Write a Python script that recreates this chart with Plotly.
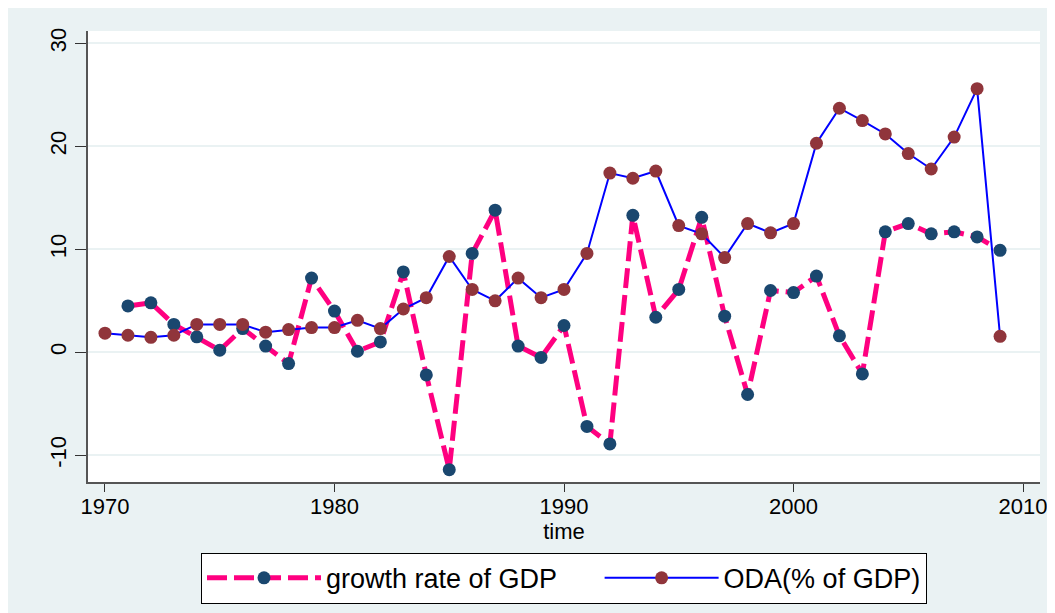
import plotly.graph_objects as go

years_gdp = list(range(1971, 2010))
gdp_growth = [4.5, 4.8, 2.7, 1.5, 0.2, 2.3, 0.6, -1.1, 7.2, 4.0,
              0.1, 1.0, 7.8, -2.2, -11.4, 9.6, 13.8, 0.6, -0.5, 2.6,
              -7.2, -8.9, 13.3, 3.4, 6.1, 13.1, 3.5, -4.1, 6.0, 5.8,
              7.4, 1.6, -2.1, 11.7, 12.5, 11.5, 11.7, 11.2, 9.9]

years_oda = list(range(1970, 2010))
oda_pct = [1.85, 1.65, 1.45, 1.65, 2.7, 2.7, 2.7, 1.95, 2.2, 2.4,
           2.4, 3.1, 2.3, 4.2, 5.3, 9.3, 6.1, 5.0, 7.2, 5.3,
           6.1, 9.6, 17.4, 16.9, 17.6, 12.3, 11.5, 9.2, 12.5, 11.6,
           12.5, 20.3, 23.7, 22.5, 21.2, 19.3, 17.8, 20.9, 25.6, 1.55]

x_ticks = [1970, 1980, 1990, 2000, 2010]
y_ticks = [-10, 0, 10, 20, 30]
y_tick_labels = [str(v) for v in y_ticks]

FONT = "Liberation Sans, Arial, sans-serif"
BG = "#EAF2F3"
NB = "\u00a0"

fig = go.Figure()
fig.add_trace(go.Scatter(
    x=years_gdp, y=gdp_growth, name="growth rate of GDP" + NB * 5,
    mode="lines+markers",
    line=dict(color="#FF0080", width=5, dash="20px,7px"),
    marker=dict(color="#1A476F", size=13),
))
fig.add_trace(go.Scatter(
    x=years_oda, y=oda_pct, name="ODA(% of GDP)",
    mode="lines+markers",
    line=dict(color="#0000FF", width=2),
    marker=dict(color="#90353B", size=13),
))

fig.update_layout(
    width=1055, height=613,
    margin=dict(l=80, r=23, t=23, b=139, autoexpand=False),
    paper_bgcolor=BG, plot_bgcolor="white",
    font=dict(family=FONT, size=22, color="black"),
    showlegend=True,
    legend=dict(orientation="h", x=0.5, xanchor="center",
                y=-0.157, yanchor="top",
                bgcolor="white", bordercolor="black", borderwidth=1,
                font=dict(size=27), itemwidth=114),
    xaxis=dict(range=[1969.26, 2010.74], tickvals=x_ticks,
               showgrid=False, zeroline=False, automargin=False,
               showline=True, linecolor="#555555", linewidth=1.5,
               ticks="outside", ticklen=8, tickcolor="#333333",
               tickfont=dict(size=22), ticklabelstandoff=-4,
               title=dict(text="time", font=dict(size=22), standoff=0)),
    yaxis=dict(range=[-12.6, 31.2], tickvals=y_ticks, ticktext=y_tick_labels,
               showgrid=True, gridcolor=BG, gridwidth=1.5,
               zeroline=False, automargin=False,
               showline=True, linecolor="#555555", linewidth=1.5,
               ticks="outside", ticklen=11, tickcolor="#333333",
               tickangle=-90, tickfont=dict(size=22)),
)

fig.write_html("out.html")
